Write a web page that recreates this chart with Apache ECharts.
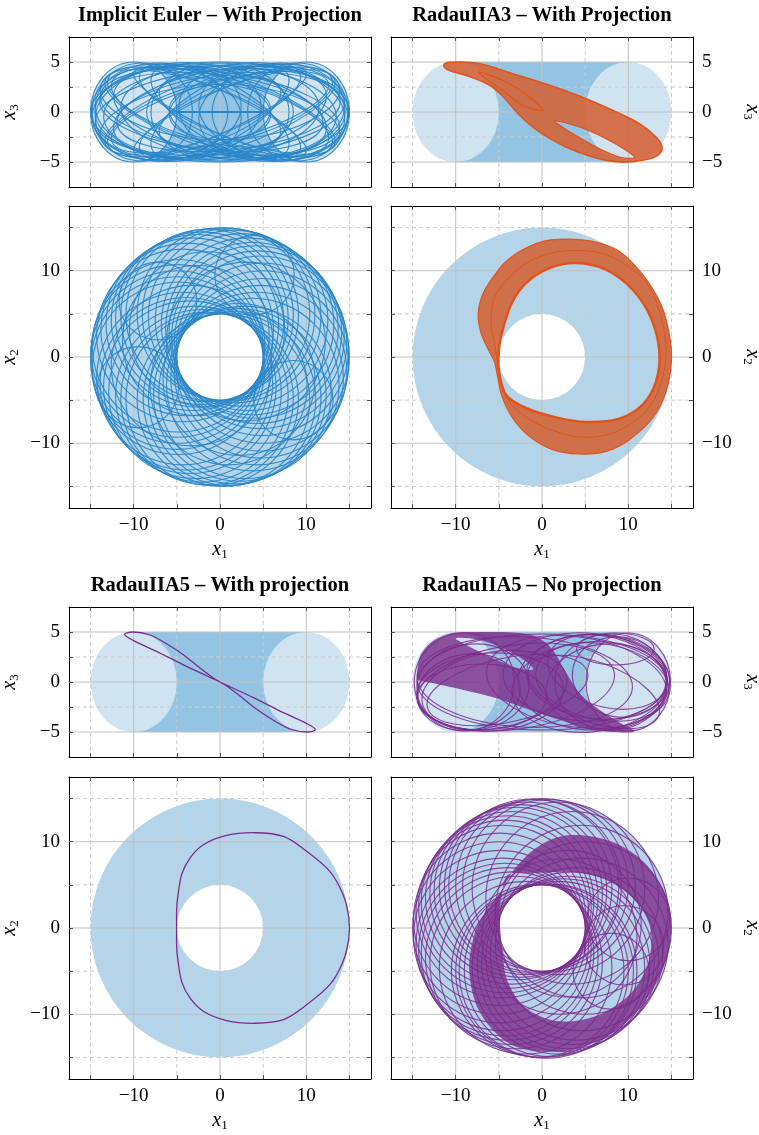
<!DOCTYPE html>
<html>
<head>
<meta charset="utf-8">
<script src="https://cdn.jsdelivr.net/npm/echarts@6/dist/echarts.min.js"></script>
<style>
  html, body { margin: 0; padding: 0; background: #fff; }
  #chart { width: 759px; height: 1135px; }
</style>
</head>
<body>
<div id="chart"></div>
<script>
// ---- axes ----
const XY_RANGE = [-17.5, 17.5];
const Z_RANGE = [-7.5, 7.5];
const XY_TICKS = [-15, -10, -5, 0, 5, 10, 15];
const XY_MAJOR = [-10, 0, 10];
const XY_MINOR = [-15, -5, 5, 15];
const XY_LABELS = [-10, 0, 10];
const Z_TICKS = [-5, -2.5, 0, 2.5, 5];
const Z_MAJOR = [-5, 0, 5];
const Z_MINOR = [-2.5, 2.5];
const Z_LABELS = [-5, 0, 5];

// ---- torus shading (R = 10, r = 5) ----
const tubeRect = [[-10, -5], [10, 5]];
const tubeCircles = [[-10, 0, 5], [10, 0, 5]];
const annulusRadii = [5, 15];

// ---- Implicit Euler: loops [cx, cy, rx, ry, tilt] ----
const ieLoopsXZ = [
  [0, 0, 15, 5, 0], [0, 0, 14.5, 4.2, 5], [0, 0, 14, 4, -8], [0, 0, 13, 3, 15], [0, 0, 13, 3.5, -15],
  [-3, 0, 11.5, 4.8, 0], [3, 0, 11.5, 4.8, 0], [-5, 0, 9.8, 4.9, 5], [5, 0, 9.8, 4.9, -5],
  [-7, 0, 7.9, 4.9, 0], [7, 0, 7.9, 4.9, 0], [-2, 0.3, 12, 3, 20], [2, -0.3, 12, 3, 20],
  [-2, -0.3, 12, 3, -20], [2, 0.3, 12, 3, -20], [0, 0, 11, 2, 25], [0, 0, 11, 2, -25],
  [-4, 1, 10, 3.5, -10], [4, -1, 10, 3.5, -10], [-4, -1, 10, 3.5, 10], [4, 1, 10, 3.5, 10],
  [-9, 0, 5.8, 4.9, 0], [9, 0, 5.8, 4.9, 0], [-10, 0, 5, 5, 0], [10, 0, 5, 5, 0],
  [0, 0, 8, 4.9, 0], [-1, 0, 12.5, 4.6, 3], [1, 0, 12.5, 4.6, -3],
  [0, 0, 12.5, 4.2, 10], [0, 0, 12.5, 4.2, -10], [-1, 0, 13, 3.8, -6], [1, 0, 13, 3.8, 6],
  [-3, 0.5, 10.5, 3, -18], [3, -0.5, 10.5, 3, -18], [-3, -0.5, 10.5, 3, 18], [3, 0.5, 10.5, 3, 18],
  [0, 0, 9, 3, 30], [0, 0, 9, 3, -30], [-6, 0, 8.5, 4.5, 8], [6, 0, 8.5, 4.5, -8],
  [-6, 0, 8.5, 4.5, -8], [6, 0, 8.5, 4.5, 8]
];
const ieSegXZ = [[-5, 0], [5, 0]];
const ieLoopsXY = [
  [5, 0, 10], [4.7, 1.7, 10], [4.1, 2.9, 10], [3.2, 3.8, 10], [1.7, 4.7, 10], [0.4, 5, 10],
  [-0.9, 4.9, 10], [-2.1, 4.5, 10], [-3.2, 3.8, 10], [-4.3, 2.5, 10], [-4.8, 1.3, 10], [-5, 0, 10],
  [-4.8, -1.3, 10], [-4.3, -2.5, 10], [-3.5, -3.5, 10], [-2.1, -4.5, 10], [-0.9, -4.9, 10],
  [0.4, -5, 10], [1.7, -4.7, 10], [2.9, -4.1, 10], [3.8, -3.2, 10], [4.7, -1.7, 10],
  [4.9, 0.9, 10], [4.4, 2.3, 10], [3.7, 3.3, 10], [2.5, 4.3, 10], [1.0, 4.9, 10], [-1.5, 4.8, 10],
  [-2.6, 4.2, 10], [-3.8, 3.2, 10], [-4.95, 0.7, 10], [-4.95, -0.7, 10], [-3.9, -3.1, 10],
  [-2.9, -4.1, 10], [-1.5, -4.8, 10], [1.1, -4.9, 10], [2.3, -4.4, 10], [4.3, -2.5, 10], [4.9, -0.9, 10],
  [3.0, 1.8, 9.2], [-1.5, 3.2, 9.0], [-3.3, -1.0, 9.3], [1.0, -3.4, 9.1], [2.2, -2.6, 8.8],
  [-2.6, 1.9, 8.7], [-7.2, 6.5, 4.5], [8.5, -5.0, 4.6], [-9.5, -3.5, 4.7], [4, 9.5, 4.6]
];

// ---- RadauIIA3 with projection ----
const r3OuterXZ = [
  [-11.33, 4.5], [-11.14, 4.9], [-9.59, 5.0], [-7.27, 4.84], [-3.41, 3.84], [0.46, 2.8],
  [4.33, 1.6], [8.19, 0.17], [11.29, -1.16], [13.22, -2.5], [13.92, -3.5], [13.41, -4.33],
  [11.67, -4.83], [8.97, -5.0], [5.87, -4.5], [2.78, -3.5], [-0.31, -2.0], [-2.63, -0.3],
  [-4.57, 1.6], [-6.11, 2.7], [-8.43, 3.55], [-10.56, 4.1]
];
const r3EyeXZ = [
  [1.62, -0.9], [4.33, -1.5], [7.42, -2.66], [9.74, -3.83], [10.71, -4.57],
  [8.97, -4.5], [6.26, -3.5], [3.55, -2.16], [2.0, -1.3]
];
const r3EyeUpXZ = [
  [-7.27, 4.0], [-4.18, 3.0], [-1.47, 1.5], [0.07, 0.2], [-2.25, 0.67], [-4.57, 2.17], [-6.5, 3.34]
];
const r3OuterXY = [
  [2.78, 13.67], [5.87, 13.4], [8.97, 12.24], [11.67, 9.54], [13.8, 6.06], [14.77, 2.58],
  [15.0, -0.5], [14.39, -3.98], [12.83, -7.07], [10.13, -9.58], [7.42, -10.94], [4.33, -11.24],
  [1.23, -10.74], [-1.47, -9.2], [-3.41, -7.07], [-4.64, -4.56], [-5.15, -2.25], [-5.5, -0.6],
  [-6.3, 1.0], [-7.1, 2.9], [-7.4, 5.0], [-6.89, 7.22], [-5.73, 9.15], [-4.18, 11.08],
  [-1.86, 12.63], [0.46, 13.48]
];
const r3InnerXY = [
  [-5.0, 0.6], [-4.75, 2.4], [-3.6, 6.06], [-1.86, 8.57], [0.85, 10.31], [3.94, 10.89],
  [7.42, 10.12], [10.51, 7.8], [12.64, 4.52], [13.6, 0.65], [13.22, -2.83], [11.67, -5.53],
  [8.97, -7.15], [5.1, -7.53], [1.62, -7.0], [-1.86, -5.91], [-4.18, -4.37], [-5.0, -1.6]
];
const r3MidXY = [
  [3.55, 12.35], [7.42, 11.85], [11.67, 9.15], [13.6, 5.28], [14.39, 0.65], [13.6, -3.6],
  [11.67, -6.69], [8.19, -8.81], [4.33, -9.27], [0.46, -8.19], [-2.24, -6.69], [-4.18, -4.56],
  [-4.95, -1.85], [-5.53, 1.81], [-5.92, 4.13], [-5.34, 7.22], [-2.63, 10.31], [0.46, 11.85]
];

// ---- RadauIIA5 with projection ----
const r5LoopXZ = [
  [0, 0], [-0.77, 0.4], [-2.32, 1.4], [-4.25, 2.73], [-6.19, 3.83], [-8.12, 4.7], [-10.06, 5.0],
  [-11.05, 4.75], [-10.06, 4.16], [-7.35, 3.06], [-3.87, 1.56],
  [0, 0], [3.87, -1.56], [7.35, -3.06], [10.06, -4.16], [11.05, -4.75],
  [10.06, -5.0], [8.12, -4.7], [6.19, -3.83], [4.25, -2.73], [2.32, -1.4], [0.77, -0.4]
];
const r5LoopXY = [
  [-5.03, 0], [-5.03, 1.93], [-4.91, 3.47], [-4.45, 6.18], [-3.48, 8.11], [-1.93, 9.65],
  [0.77, 10.73], [4.06, 11.04], [7.35, 10.62], [9.9, 9.0], [12.7, 6.6], [14.25, 3.9],
  [14.93, 1.2], [14.93, -1.2], [14.25, -3.9], [12.7, -6.6], [9.9, -9.0],
  [7.35, -10.62], [4.06, -11.04], [0.77, -10.73], [-1.93, -9.65], [-3.48, -8.11],
  [-4.45, -6.18], [-4.91, -3.47], [-5.03, -1.93]
];

// ---- RadauIIA5 no projection ----
const r5nDenseXZ = [
  [-14.43, 1.23], [-14.04, 2.73], [-12.69, 4.06], [-10.37, 4.9], [-7.27, 5.0], [-3.41, 4.96],
  [-0.7, 4.56], [1.23, 3.23], [2.59, 1.23], [4.33, -1.1], [6.65, -2.77], [8.97, -4.04],
  [10.71, -4.94], [8.19, -5.0], [5.1, -4.6], [2.0, -3.77], [-1.47, -2.77], [-5.34, -1.6],
  [-9.21, -0.77], [-12.69, -0.1], [-14.31, 0.23]
];
const r5nEyeXZ = [
  [-9.98, 4.4], [-7.27, 4.23], [-4.18, 3.23], [-1.86, 2.06], [-1.09, 1.23],
  [-3.41, 1.56], [-6.5, 2.73], [-8.82, 3.73]
];
const r5nLoopsXZ = [
  [6, 0, 8.8, 4.8, 0], [6.5, 0.5, 8.3, 4.2, -5], [7, 0, 7.8, 3.8, -10], [5.5, -0.5, 9, 4.5, 5],
  [8, 0, 6.5, 4.8, 0], [7.5, 1, 7, 3.5, -15], [6, -1, 8, 3, -20], [9, 0.5, 5.5, 4, -10],
  [4, 0, 10.5, 4.5, -8], [10, 0, 4.9, 4.9, 0], [-5.5, -0.8, 8.5, 3.8, 10], [-7, -1.5, 7.5, 3.3, 0],
  [-8, -0.5, 6.5, 4.3, 5], [-4, -0.8, 9.5, 3.2, 12], [-9, 0, 5.8, 4.9, 0], [-3, -0.5, 11.5, 4.2, 8],
  [-2, 0, 12.5, 4.5, -3], [0, 0, 14.5, 4.8, 0], [8.5, 3.3, 4.5, 1.6, 0],
  [5, 0.5, 9.5, 4.4, -3], [7.5, -0.5, 7, 4.3, 5], [-6, -1, 8.5, 3.9, 3], [-8.5, -1, 6, 3.8, 8]
];
const r5nLoopsXY = [
  [5, 0, 10], [4.6, 1.9, 10], [3.5, 3.5, 10], [1.9, 4.6, 10], [0, 5, 10], [-1.9, 4.6, 10],
  [-2.5, 4.3, 10], [-3.5, 3.5, 10], [-4.3, 2.5, 10], [-4.6, 1.9, 10], [-5, 0, 10], [-4.6, -1.9, 10],
  [-4.3, -2.5, 10], [-3.5, -3.5, 10], [-1.9, -4.6, 10], [0, -5, 10], [1.9, -4.6, 10], [2.5, -4.3, 10],
  [3, -4, 10], [3.5, -3.5, 10], [4, -3, 10], [4.6, -1.9, 10], [2, -1, 9], [3, 0.5, 8.5],
  [9.5, -2, 4.6], [8, -5, 4.4], [10, 1, 4.8],
  [0.8, 4.9, 10], [-0.8, 4.9, 10], [-1.2, 4.85, 10.1], [-3, 4, 10], [-4, 3, 10], [-4.9, 1, 10],
  [-4.9, -1, 10], [-4, -3, 10], [-3, -4, 10], [1, -4.9, 10], [0.5, -5, 10.1], [-0.5, -4.95, 10]
];
const r5nBandOuterXY = [
  [2.78, 10.73], [7.42, 10.23], [11.29, 8.11], [13.99, 4.63], [14.97, 0.77], [14.46, -3.48],
  [12.45, -7.73], [8.97, -11.59], [4.33, -13.9], [-0.31, -14.3], [-4.18, -13.14], [-7.27, -9.66],
  [-8.43, -5.03], [-7.85, -0.77], [-6.5, 1.93], [-4.76, 4.24], [-3.41, 6.56], [-0.7, 9.27]
];
const r5nBandInnerXY = [
  [-3.9, 6.2], [-0.7, 6.37], [3.55, 6.49], [7.42, 5.6], [10.51, 3.47], [12.45, 0.38],
  [12.45, -3.48], [10.51, -7.34], [6.65, -10.05], [2.0, -10.82], [-1.86, -9.27], [-3.99, -6.18],
  [-4.57, -2.71], [-4.9, 1.0], [-4.7, 3.6]
];

// ---- styling ----
const FONT = 'Liberation Serif';
const BLUE = '#2a86c8';
const ORANGE = '#e0541c';
const PURPLE = '#7b2c8c';
const SHADE_LIGHT = '#cfe3f1';
const SHADE_DARK = '#94c4e4';
const SHADE_RING = '#b4d4ea';
const MAJOR_GRID = '#c0c0c0';
const MINOR_GRID = '#cccccc';

const panels = [
  { rect: [69, 37, 302, 150], kind: 'xz', side: 'left' },
  { rect: [69, 206, 302, 302], kind: 'xy', side: 'left' },
  { rect: [391, 37, 302, 150], kind: 'xz', side: 'right' },
  { rect: [391, 206, 302, 302], kind: 'xy', side: 'right' },
  { rect: [69, 607, 302, 150], kind: 'xz', side: 'left' },
  { rect: [69, 777, 302, 302], kind: 'xy', side: 'left' },
  { rect: [391, 607, 302, 150], kind: 'xz', side: 'right' },
  { rect: [391, 777, 302, 302], kind: 'xy', side: 'right' }
];
const titles = [
  { text: 'Implicit Euler – With Projection', x: 220, y: 16 },
  { text: 'RadauIIA3 – With Projection', x: 542, y: 16 },
  { text: 'RadauIIA5 – With projection', x: 220, y: 586 },
  { text: 'RadauIIA5 – No projection', x: 542, y: 586 }
];

const RICH = {
  v: { fontFamily: FONT, fontStyle: 'italic', fontSize: 20, color: '#000' },
  s: { fontFamily: FONT, fontSize: 13, color: '#000', padding: [9, 0, 0, 0] }
};
const fmt = v => (v < 0 ? '\u2212' + Math.abs(v) : String(v));

function axis(g, pos, range, ticks, labels, name) {
  const vertical = pos === 'left' || pos === 'right';
  return {
    type: 'value', gridIndex: g, position: pos, min: range[0], max: range[1], z: 10,
    axisLine: { show: true, onZero: false, lineStyle: { color: '#000', width: 1 } },
    axisTick: { show: true, inside: true, length: 4, customValues: ticks, lineStyle: { color: '#555', width: 1 } },
    axisLabel: labels
      ? { show: true, customValues: labels, formatter: fmt, fontFamily: FONT, fontSize: 19, color: '#000', margin: vertical ? 9 : 8 }
      : { show: false },
    splitLine: { show: false },
    name: name || '',
    nameLocation: 'middle',
    nameGap: vertical ? 48 : 31,
    nameRotate: pos === 'right' ? -90 : (vertical ? 90 : 0),
    nameTextStyle: { rich: RICH }
  };
}

const xAxes = [], yAxes = [];
panels.forEach((p, g) => {
  const small = p.kind === 'xz';
  xAxes.push(axis(g, 'bottom', XY_RANGE, XY_TICKS, small ? null : XY_LABELS, small ? null : '{v|x}{s|1}'));
  xAxes.push(axis(g, 'top', XY_RANGE, XY_TICKS, null, null));
  ['left', 'right'].forEach(pos => {
    const own = pos === p.side;
    yAxes.push(axis(g, pos, small ? Z_RANGE : XY_RANGE, small ? Z_TICKS : XY_TICKS,
      own ? (small ? Z_LABELS : XY_LABELS) : null,
      own ? (small ? '{v|x}{s|3}' : '{v|x}{s|2}') : null));
  });
});

// ---- drawing helpers ----
function custom(g, render) {
  return {
    type: 'custom', xAxisIndex: 2 * g, yAxisIndex: 2 * g, data: [[0, 0]],
    silent: true, clip: true, animation: false,
    renderItem: (params, api) => render(api, params.coordSys)
  };
}
const r2 = v => Math.round(v * 100) / 100;
function ellipsePath(rx, ry) {
  rx = r2(rx); ry = r2(ry);
  return 'M' + (-rx) + ' 0A' + rx + ' ' + ry + ' 0 1 0 ' + rx + ' 0A' + rx + ' ' + ry + ' 0 1 0 ' + (-rx) + ' 0Z';
}
function spline(pts, closed) {
  const n = pts.length;
  const at = i => closed ? pts[(i + n) % n] : pts[Math.max(0, Math.min(n - 1, i))];
  let d = 'M' + r2(pts[0][0]) + ' ' + r2(pts[0][1]);
  const segs = closed ? n : n - 1;
  for (let i = 0; i < segs; i++) {
    const p0 = at(i - 1), p1 = at(i), p2 = at(i + 1), p3 = at(i + 2);
    d += 'C' + r2(p1[0] + (p2[0] - p0[0]) / 6) + ' ' + r2(p1[1] + (p2[1] - p0[1]) / 6) + ' ' +
      r2(p2[0] - (p3[0] - p1[0]) / 6) + ' ' + r2(p2[1] - (p3[1] - p1[1]) / 6) + ' ' +
      r2(p2[0]) + ' ' + r2(p2[1]);
  }
  return closed ? d + 'Z' : d;
}
function signedArea(p) {
  let a = 0;
  for (let i = 0; i < p.length; i++) {
    const j = (i + 1) % p.length;
    a += p[i][0] * p[j][1] - p[j][0] * p[i][1];
  }
  return a;
}

function tubeShade(g) {
  return custom(g, api => {
    const a = api.coord(tubeRect[0]), b = api.coord(tubeRect[1]);
    const kids = [{ type: 'rect', shape: { x: a[0], y: b[1], width: b[0] - a[0], height: a[1] - b[1] }, style: { fill: SHADE_DARK } }];
    tubeCircles.forEach(c => {
      const p = api.coord([c[0], c[1]]), s = api.size([c[2], c[2]]);
      kids.push({ type: 'path', x: p[0], y: p[1], shape: { pathData: ellipsePath(Math.abs(s[0]), Math.abs(s[1])) }, style: { fill: SHADE_LIGHT } });
    });
    return { type: 'group', children: kids };
  });
}
function ringShade(g) {
  return custom(g, api => {
    const c = api.coord([0, 0]);
    return {
      type: 'ring',
      shape: { cx: c[0], cy: c[1], r: Math.abs(api.size([annulusRadii[1], 0])[0]), r0: Math.abs(api.size([annulusRadii[0], 0])[0]) },
      style: { fill: SHADE_RING }
    };
  });
}
function gridLines(g, small) {
  return custom(g, (api, cs) => {
    const kids = [];
    const add = (x1, y1, x2, y2, minor) => kids.push({
      type: 'line', shape: { x1: x1, y1: y1, x2: x2, y2: y2 },
      style: { stroke: minor ? MINOR_GRID : MAJOR_GRID, lineWidth: 1, lineDash: minor ? [4, 3] : null }
    });
    XY_MAJOR.forEach(v => { const x = api.coord([v, 0])[0]; add(x, cs.y, x, cs.y + cs.height, false); });
    XY_MINOR.forEach(v => { const x = api.coord([v, 0])[0]; add(x, cs.y, x, cs.y + cs.height, true); });
    (small ? Z_MAJOR : XY_MAJOR).forEach(v => { const y = api.coord([0, v])[1]; add(cs.x, y, cs.x + cs.width, y, false); });
    (small ? Z_MINOR : XY_MINOR).forEach(v => { const y = api.coord([0, v])[1]; add(cs.x, y, cs.x + cs.width, y, true); });
    return { type: 'group', children: kids };
  });
}
function ellipses(g, list, stroke, width, opacity) {
  return custom(g, api => ({
    type: 'group',
    children: list.map(e => {
      const c = api.coord([e[0], e[1]]);
      const s = api.size([e[2], e[3]]);
      return {
        type: 'path', x: c[0], y: c[1], rotation: (e[4] || 0) * Math.PI / 180,
        shape: { pathData: ellipsePath(Math.abs(s[0]), Math.abs(s[1])) },
        style: { fill: 'none', stroke: stroke, lineWidth: width, opacity: opacity }
      };
    })
  }));
}
function curve(g, pts, closed, stroke, width, opacity) {
  return custom(g, api => ({
    type: 'path',
    shape: { pathData: spline(pts.map(p => api.coord(p)), closed) },
    style: { fill: 'none', stroke: stroke, lineWidth: width, opacity: opacity == null ? 1 : opacity, lineJoin: 'round' }
  }));
}
function band(g, outer, holes, fill) {
  return custom(g, api => {
    const o = outer.map(p => api.coord(p));
    let d = spline(o, true);
    holes.forEach(h => {
      let q = h.map(p => api.coord(p));
      if (Math.sign(signedArea(q)) === Math.sign(signedArea(o))) q = q.slice().reverse();
      d += spline(q, true);
    });
    return { type: 'path', shape: { pathData: d }, style: { fill: fill, stroke: 'none' } };
  });
}

const circ = list => list.map(c => [c[0], c[1], c[2], c[2], 0]);
const ORANGE_FILL = 'rgba(212, 98, 52, 0.88)';
const PURPLE_FILL = 'rgba(122, 44, 138, 0.8)';

const series = [];
panels.forEach((p, g) => {
  series.push(p.kind === 'xz' ? tubeShade(g) : ringShade(g));
  series.push(gridLines(g, p.kind === 'xz'));
});
// Implicit Euler
series.push(ellipses(0, ieLoopsXZ, BLUE, 1.1, 0.95));
series.push(curve(0, ieSegXZ, false, BLUE, 2, 1));
series.push(ellipses(1, circ(ieLoopsXY), BLUE, 1.1, 0.95));
// RadauIIA3
series.push(band(2, r3OuterXZ, [r3EyeXZ], ORANGE_FILL));
series.push(curve(2, r3OuterXZ, true, ORANGE, 1.5));
series.push(curve(2, r3EyeXZ, true, ORANGE, 1.2));
series.push(curve(2, r3EyeUpXZ, true, ORANGE, 1.2));
series.push(band(3, r3OuterXY, [r3InnerXY], ORANGE_FILL));
series.push(curve(3, r3OuterXY, true, ORANGE, 1.2));
series.push(curve(3, r3InnerXY, true, ORANGE, 2.5));
series.push(curve(3, r3MidXY, true, ORANGE, 1));
// RadauIIA5 with projection
series.push(curve(4, r5LoopXZ, true, PURPLE, 1.3));
series.push(curve(5, r5LoopXY, true, PURPLE, 1.3));
// RadauIIA5 no projection
series.push(band(6, r5nDenseXZ, [r5nEyeXZ], PURPLE_FILL));
series.push(ellipses(6, r5nLoopsXZ, PURPLE, 1.1, 0.85));
series.push(ellipses(7, circ(r5nLoopsXY), PURPLE, 1.1, 0.85));
series.push(band(7, r5nBandOuterXY, [r5nBandInnerXY], PURPLE_FILL));

const chart = echarts.init(document.getElementById('chart'), null, { renderer: 'canvas' });
chart.setOption({
  animation: false,
  backgroundColor: '#fff',
  grid: panels.map(p => ({ left: p.rect[0], top: p.rect[1], width: p.rect[2], height: p.rect[3], containLabel: false, outerBoundsMode: 'none' })),
  xAxis: xAxes,
  yAxis: yAxes,
  graphic: titles.map(t => ({
    type: 'text', x: t.x, y: t.y, silent: true,
    style: { text: t.text, fontFamily: FONT, fontWeight: 'bold', fontSize: 20.5, fill: '#000', align: 'center', verticalAlign: 'middle', textAlign: 'center', textVerticalAlign: 'middle' }
  })),
  series: series
});
</script>
</body>
</html>
